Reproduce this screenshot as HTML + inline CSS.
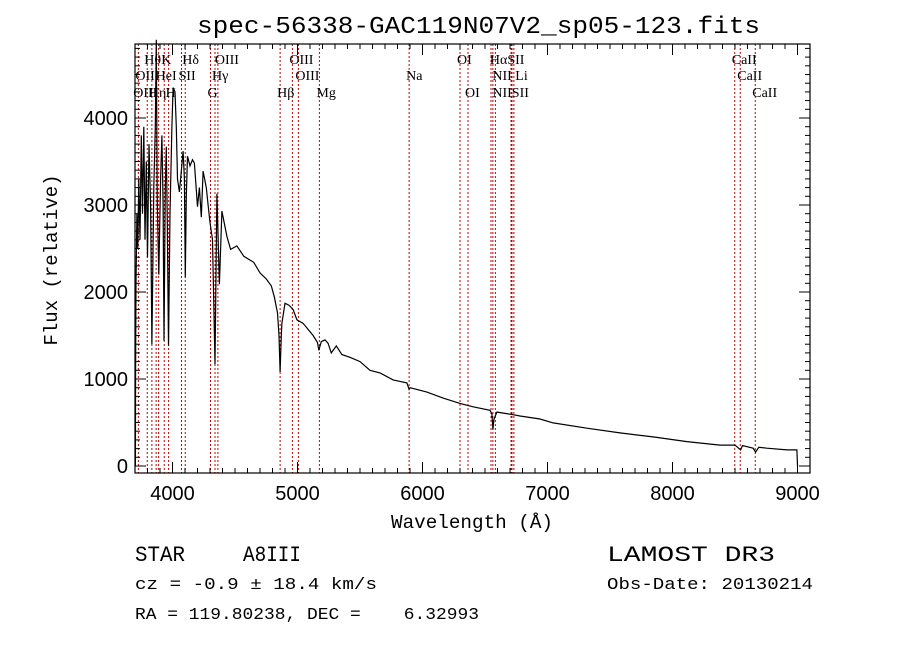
<!DOCTYPE html>
<html><head><meta charset="utf-8">
<style>
html,body{margin:0;padding:0;background:#fff;}
body{width:900px;height:649px;overflow:hidden;position:relative;}
svg{position:absolute;left:0;top:0;}
.mono{font-family:"Liberation Mono",monospace;}
.serif{font-family:"Liberation Serif",serif;}
.sans{font-family:"Liberation Sans",sans-serif;}
</style></head>
<body>
<svg id="chart" width="900" height="649">
<text x="197" y="33" textLength="563" lengthAdjust="spacingAndGlyphs" class="mono" font-size="24">spec-56338-GAC119N07V2_sp05-123.fits</text>
<g id="lines"></g>
<g id="labels"></g>
<g id="axes"></g>
<path id="spec" fill="none" stroke="#000" stroke-width="1.2"></path>
<text x="391" y="528" textLength="162" lengthAdjust="spacingAndGlyphs" class="mono" font-size="19">Wavelength (Å)</text>
<text transform="translate(57,260) rotate(-90)" text-anchor="middle" class="mono" font-size="19">Flux (relative)</text>
<text x="135" y="561" textLength="50" lengthAdjust="spacingAndGlyphs" class="mono" font-size="22">STAR</text>
<text x="243" y="561" textLength="58" lengthAdjust="spacingAndGlyphs" class="mono" font-size="22">A8III</text>
<text x="135" y="589" textLength="242" lengthAdjust="spacingAndGlyphs" class="mono" font-size="17">cz = -0.9 ± 18.4 km/s</text>
<text x="135" y="619" textLength="344" lengthAdjust="spacingAndGlyphs" class="mono" font-size="17" xml:space="preserve">RA = 119.80238, DEC =    6.32993</text>
<text x="607" y="561" textLength="168" lengthAdjust="spacingAndGlyphs" class="mono" font-size="22">LAMOST DR3</text>
<text x="607" y="589" textLength="206" lengthAdjust="spacingAndGlyphs" class="mono" font-size="17">Obs-Date: 20130214</text>
</svg>
<script>
const wave=[3703,3705,3708,3715,3722,3730,3740,3750,3760,3770,3780,3790,3800,3812,3825,3835,3850,3862,3870,3878,3890,3905,3915,3925,3932,3942,3950,3958,3968,3980,3995,4005,4020,4030,4040,4055,4065,4085,4095,4102,4110,4120,4140,4160,4175,4200,4215,4230,4245,4270,4285,4300,4320,4340,4355,4375,4395,4435,4465,4515,4570,4650,4700,4750,4790,4815,4840,4852,4861,4870,4875,4900,4930,4965,4995,5045,5090,5125,5160,5170,5190,5220,5245,5270,5310,5355,5420,5500,5580,5660,5765,5875,5893,5900,6035,6165,6300,6405,6540,6555,6563,6572,6595,6725,6780,6940,7045,7315,7580,7845,8115,8380,8500,8545,8560,8645,8665,8690,8755,8915,8995,9000];
const flux=[0,1100,2100,2900,2500,3300,2600,3800,2900,3900,2600,3500,2400,3700,3000,1400,3200,3900,4900,3000,2200,3300,3800,3000,1440,3200,3670,2800,1380,2900,3900,4350,4300,3900,3300,3150,3300,3620,3300,2170,3100,3560,3450,3520,3480,2980,3200,2860,3390,3200,3000,2800,2600,1170,3130,2090,2930,2640,2490,2530,2410,2340,2220,2150,2070,1940,1760,1500,1080,1500,1640,1870,1850,1800,1680,1640,1560,1500,1420,1330,1430,1450,1410,1300,1380,1280,1250,1200,1100,1070,990,955,880,900,850,780,720,680,640,600,420,540,620,590,575,540,495,435,380,335,280,240,240,185,235,205,160,215,205,185,185,0];
const lineWaves=[3727,3798,3835,3869,3889,3934,3969,4072,4102,4304,4340,4363,4861,4959,5007,5175,5893,6300,6364,6548,6563,6583,6708,6716,6731,8498,8542,8662];
const labelText=["Hθ","K","Hδ","OIII","OIII","Na","OI","HαSII","CaII","OII","HeI","SII","Hγ","OIII","NII Li","CaII","OIII","Hη","H","G","Hβ","Mg","OI","NIISII","CaII"];
const labelWave=[3798,3934,4102,4363,4959,5893,6300,6563,8498,3727,3889,4072,4340,5007,6583,8542,3710,3835,3969,4304,4861,5175,6364,6583,8662];
const labelRow=[0,0,0,0,0,1,0,0,0,1,1,1,1,1,1,1,2,2,2,2,2,2,2,2,2];
const xTicks=[4000,5000,6000,7000,8000,9000];
const yTicks=[0,1000,2000,3000,4000];
const NS="http://www.w3.org/2000/svg";
const L=135,R=810,T=44,B=473,XMIN=3700,XMAX=9100;
const x=w=>L+(w-XMIN)*(R-L)/(XMAX-XMIN);
const y=f=>466-f*0.087;
function mk(tag,attrs,parent){const e=document.createElementNS(NS,tag);for(const k in attrs)e.setAttribute(k,attrs[k]);parent.appendChild(e);return e;}
const lines=document.getElementById('lines');
lineWaves.forEach(w=>{const l=mk('line',{x1:x(w),x2:x(w),y1:T,y2:B,stroke:'#c00000','stroke-width':1,'stroke-dasharray':'2,2'},lines);

});
const labels=document.getElementById('labels');
const rowY=[64,80,97];
labelText.forEach((t,i)=>{const e=mk('text',{x:x(labelWave[i])-3,y:rowY[labelRow[i]],'font-size':14,'font-family':'"Liberation Serif",serif'},labels);e.textContent=t;

});
let d='';wave.forEach((w,i)=>{d+=(i?'L':'M')+x(w).toFixed(1)+','+Math.min(y(flux[i]),B).toFixed(1);});
document.getElementById('spec').setAttribute('d',d);
const ax=document.getElementById('axes');
mk('rect',{x:L,y:T,width:R-L,height:B-T,fill:'none',stroke:'#000','stroke-width':1.2},ax);
for(let w=3800;w<=9100;w+=100){const maj=w%1000===0;const len=maj?11:5;
mk('line',{x1:x(w),x2:x(w),y1:B,y2:B-len,stroke:'#000'},ax);
mk('line',{x1:x(w),x2:x(w),y1:T,y2:T+len,stroke:'#000'},ax);}
for(let f=-0;f<=4800;f+=100){const maj=f%1000===0;const len=maj?11:5;
mk('line',{x1:L,x2:L+len,y1:y(f),y2:y(f),stroke:'#000'},ax);
mk('line',{x1:R,x2:R-len,y1:y(f),y2:y(f),stroke:'#000'},ax);}
xTicks.forEach(w=>{const t=mk('text',{x:x(w),y:500,'text-anchor':'middle','font-size':20,'font-family':'"Liberation Sans",sans-serif'},ax);t.textContent=w;

});
yTicks.forEach(f=>{const t=mk('text',{x:128,y:y(f)+7,'text-anchor':'end','font-size':20,'font-family':'"Liberation Sans",sans-serif'},ax);t.textContent=f;

});
</script>
</body></html>
